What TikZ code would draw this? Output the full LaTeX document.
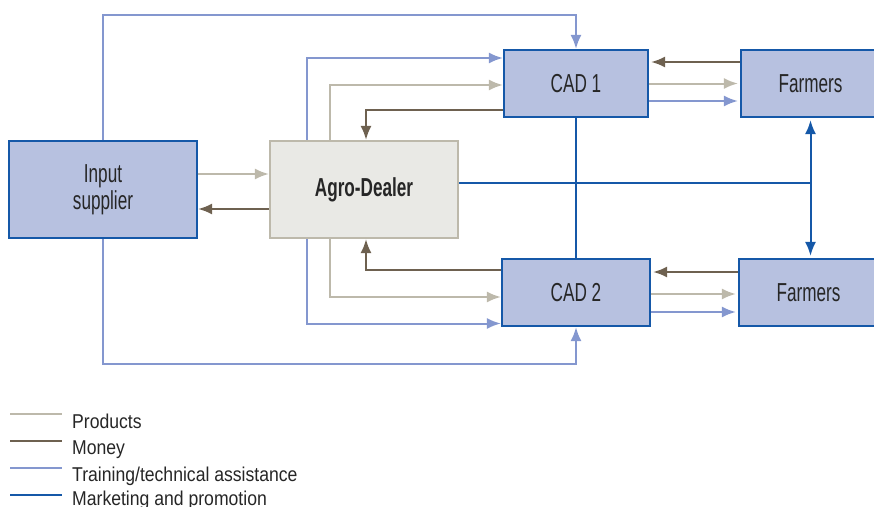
\documentclass[tikz,border=0pt]{standalone}
\usepackage{fontspec}
\setmainfont[FakeStretch=0.66]{Liberation Sans}
\newfontfamily\legendfont[FakeStretch=0.88]{Liberation Sans}
\usetikzlibrary{arrows.meta}
\definecolor{prodgray}{HTML}{BDB9AB}
\definecolor{moneybrown}{HTML}{6E6150}
\definecolor{trainblue}{HTML}{8497CF}
\definecolor{mktblue}{HTML}{1558A8}
\definecolor{boxfill}{HTML}{B7C1E0}
\definecolor{dealerfill}{HTML}{E9E9E5}
\tikzset{
  >={Latex[length=14pt,width=11pt]},
}
\tikzstyle{box}=[draw=mktblue,line width=2.2pt,fill=boxfill,align=center,text=black!85,font=\fontsize{26}{27}\selectfont]
\tikzstyle{prod}=[prodgray,line width=2pt]
\tikzstyle{money}=[moneybrown,line width=2pt]
\tikzstyle{train}=[trainblue,line width=2pt]
\tikzstyle{mkt}=[mktblue,line width=2pt]
\tikzstyle{legend}=[anchor=base west,inner sep=0pt,text=black!85,font=\legendfont\fontsize{20}{21}\selectfont]
\begin{document}
\begin{tikzpicture}[x=1pt,y=1pt]
    \useasboundingbox (0,0) rectangle (874,-506);
    \clip (0,0) rectangle (874,-506);
    % boxes
    \node[box,minimum width=188pt,minimum height=97pt] (supplier) at (103,-189.5) {Input\\supplier};
    \node[box,draw=prodgray,fill=dealerfill,minimum width=188pt,minimum height=97pt,font=\bfseries\fontsize{26}{27}\selectfont] (dealer) at (364,-189.5) {Agro-Dealer};
    \node[box,minimum width=144pt,minimum height=67pt] (cadA) at (576,-83.5) {CAD 1};
    \node[box,minimum width=148pt,minimum height=67pt] (cadB) at (576,-292.5) {CAD 2};
    \node[box,minimum width=139pt,minimum height=67pt] (farmA) at (810.5,-83.5) {Farmers};
    \node[box,minimum width=139pt,minimum height=67pt] (farmB) at (808.5,-292.5) {Farmers};
    % supplier <-> dealer
    \draw[prod,->] ([yshift=15.5]supplier.east) -- ([yshift=15.5]dealer.west);
    \draw[money,->] ([yshift=-19.5]dealer.west) -- ([yshift=-19.5]supplier.east);
    % supplier -> CADs
    \draw[train,->] (supplier.north) -- ++(0,125) -| (cadA.north);
    \draw[train,->] (supplier.south) -- ++(0,-125) -| (cadB.south);
    % dealer <-> CAD 1
    \draw[train,->] ([xshift=-57]dealer.north) |- ([yshift=25.5]cadA.west);
    \draw[prod,->] ([xshift=-34]dealer.north) |- ([yshift=-1.5]cadA.west);
    \draw[money,->] ([yshift=-26.5]cadA.west) -| ([xshift=2]dealer.north);
    % dealer <-> CAD 2
    \draw[train,->] ([xshift=-57]dealer.south) |- ([yshift=-31]cadB.west);
    \draw[prod,->] ([xshift=-34]dealer.south) |- ([yshift=-4.5]cadB.west);
    \draw[money,->] ([yshift=22.5]cadB.west) -| ([xshift=2]dealer.south);
    % CADs <-> farmers
    \draw[money,->,shorten >=2pt] ([yshift=21.5]farmA.west) -- ([yshift=21.5]cadA.east);
    \draw[prod,->,shorten >=2pt] (cadA.east) -- (farmA.west);
    \draw[train,->,shorten >=2pt] ([yshift=-17.5]cadA.east) -- ([yshift=-17.5]farmA.west);
    \draw[money,->,shorten >=2pt] ([yshift=20.5]farmB.west) -- ([yshift=20.5]cadB.east);
    \draw[prod,->,shorten >=2pt] ([yshift=-1.5]cadB.east) -- ([yshift=-1.5]farmB.west);
    \draw[train,->,shorten >=2pt] ([yshift=-19.5]cadB.east) -- ([yshift=-19.5]farmB.west);
    % marketing
    \draw[mkt] ([yshift=6.5]dealer.east) -- ([yshift=6.5]dealer.east -| farmA.south);
    \draw[mkt] (cadA.south) -- (cadB.north);
    \draw[mkt,<->,shorten >=2pt,shorten <=2pt] (farmA.south) -- (farmA.south |- farmB.north);
    % legend
    \draw[prodgray,line width=2.6pt] (10,-414) -- (62,-414);
    \draw[moneybrown,line width=2.6pt] (10,-441) -- (62,-441);
    \draw[trainblue,line width=2.6pt] (10,-468) -- (62,-468);
    \draw[mktblue,line width=2.6pt] (10,-495) -- (62,-495);
    \node[legend] (lgProd) at (72,-428) {Products};
    \node[legend] (lgMoney) at (72,-454.5) {Money};
    \node[legend] (lgTrain) at (72,-481) {Training/technical assistance};
    \node[legend] (lgMkt) at (72,-505.5) {Marketing and promotion};
\end{tikzpicture}
\end{document}
